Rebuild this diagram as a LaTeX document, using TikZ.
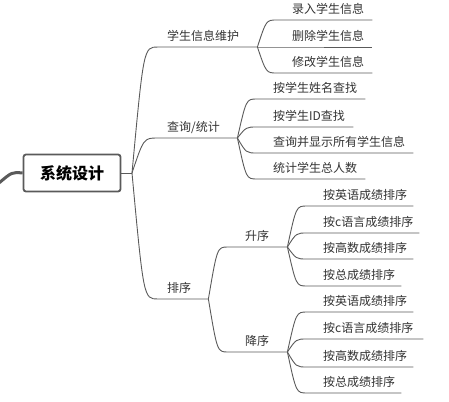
\documentclass[tikz,border=0pt]{standalone}
\usepackage{fontspec}
\setmainfont{Noto Sans CJK SC}
\usetikzlibrary{calc}
\definecolor{linec}{HTML}{5A5A5A}
\definecolor{txtc}{HTML}{333333}
\newcommand\mmlink[2]{\draw[link] (#1) .. controls ($(#1 |- #2.south west)!0.45!(#2.south west)$) .. (#2.south west) -- (#2.south east);}
\begin{document}
\begin{tikzpicture}[x=1pt,y=-1pt,
  link/.style={draw=linec, line width=0.9pt},
  leaf/.style={anchor=south west, inner xsep=0pt, inner ysep=3.4pt, text height=9pt, text depth=3pt,
    align=left, font=\fontsize{12}{14}\selectfont, text=txtc},
  rootbox/.style={draw=linec, line width=1.8pt, rounded corners=2.5pt, fill=white,
    minimum width=97pt, minimum height=37pt, inner sep=0pt, font=\fontsize{16}{18}\selectfont\bfseries, text=black}]
\useasboundingbox (0,0) rectangle (449,401);
% root
\node[rootbox] (root) at (72,173) {系统设计};
\coordinate (lft) at (-1,183);
\draw[draw=linec, line width=3pt] (lft) .. controls (12,172) .. (root.west);
\coordinate (b0) at (132,173);
\draw[link] (root.east) -- (b0);
% level 1
\node[leaf, text width=99pt] (m1) at (158,47) {\hspace*{9pt}学生信息维护};
\node[leaf, text width=79pt] (m2) at (158,138) {\hspace*{9pt}查询/统计};
\node[leaf, text width=50pt] (m3) at (158,299) {\hspace*{9pt}排序};
\mmlink{b0}{m1}
\mmlink{b0}{m2}
\mmlink{b0}{m3}
% maintenance
\node[leaf, text width=95pt] (a1) at (277,20) {\hspace*{15pt}录入学生信息};
\node[leaf, text width=95pt] (a2) at (277,47) {\hspace*{15pt}删除学生信息};
\node[leaf, text width=95pt] (a3) at (277,73) {\hspace*{15pt}修改学生信息};
\mmlink{m1.south east}{a1}
\mmlink{m1.south east}{a2}
\mmlink{m1.south east}{a3}
% query
\node[leaf, text width=108pt] (q1) at (257,99) {\hspace*{16pt}按学生姓名查找};
\node[leaf, text width=96pt] (q2) at (257,127) {\hspace*{16pt}按学生ID查找};
\node[leaf, text width=156pt] (q3) at (257,153) {\hspace*{16pt}查询并显示所有学生信息};
\node[leaf, text width=108pt] (q4) at (257,179) {\hspace*{16pt}统计学生总人数};
\mmlink{m2.south east}{q1}
\mmlink{m2.south east}{q2}
\mmlink{m2.south east}{q3}
\mmlink{m2.south east}{q4}
% sort
\node[leaf, text width=59pt] (s1) at (228,247) {\hspace*{17pt}升序};
\node[leaf, text width=59pt] (s2) at (228,352) {\hspace*{17pt}降序};
\mmlink{m3.south east}{s1}
\mmlink{m3.south east}{s2}
% ascending
\node[leaf, text width=106pt] (u1) at (307,206) {\hspace*{16pt}按英语成绩排序};
\node[leaf, text width=112pt] (u2) at (307,233) {\hspace*{16pt}按c语言成绩排序};
\node[leaf, text width=106pt] (u3) at (307,259) {\hspace*{16pt}按高数成绩排序};
\node[leaf, text width=94pt] (u4) at (307,286) {\hspace*{16pt}按总成绩排序};
\mmlink{s1.south east}{u1}
\mmlink{s1.south east}{u2}
\mmlink{s1.south east}{u3}
\mmlink{s1.south east}{u4}
% descending
\node[leaf, text width=106pt] (d1) at (307,312) {\hspace*{16pt}按英语成绩排序};
\node[leaf, text width=116pt] (d2) at (307,339) {\hspace*{16pt}按c语言成绩排序};
\node[leaf, text width=106pt] (d3) at (307,367) {\hspace*{16pt}按高数成绩排序};
\node[leaf, text width=94pt] (d4) at (307,393) {\hspace*{16pt}按总成绩排序};
\mmlink{s2.south east}{d1}
\mmlink{s2.south east}{d2}
\mmlink{s2.south east}{d3}
\mmlink{s2.south east}{d4}
\end{tikzpicture}
\end{document}
